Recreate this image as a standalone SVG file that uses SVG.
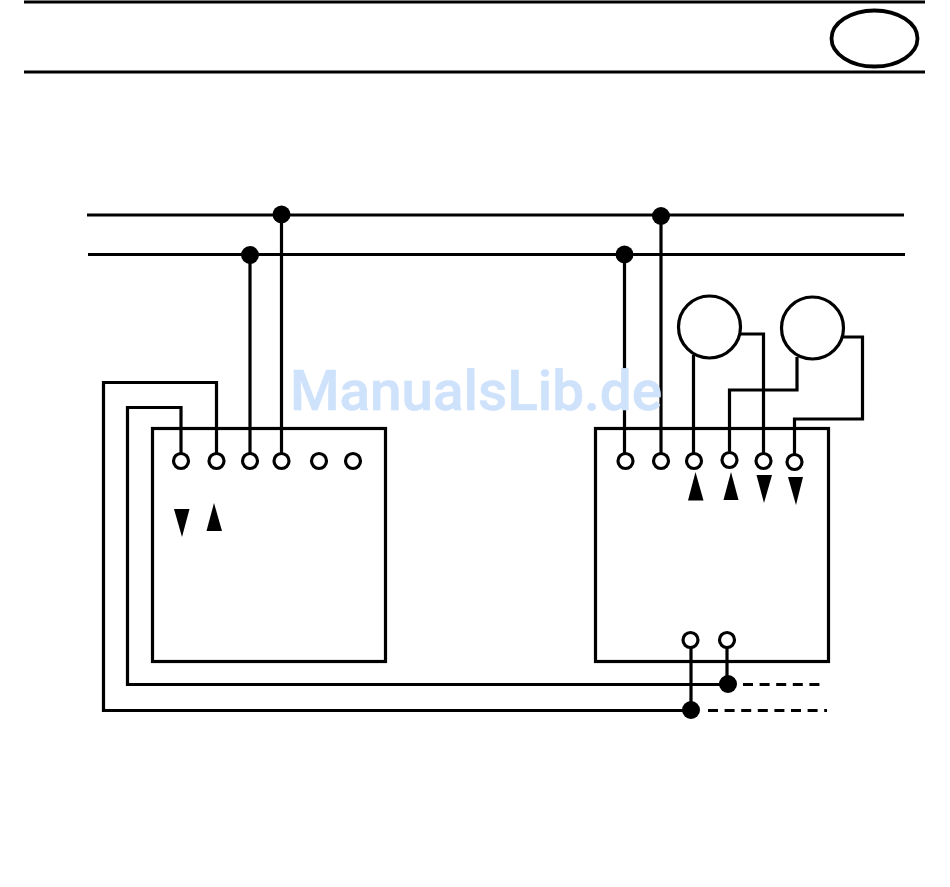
<svg xmlns="http://www.w3.org/2000/svg" width="950" height="887" viewBox="0 0 950 887">
<style>
.l{fill:none;stroke:#000;stroke-width:3.2}
.o{fill:#fff;stroke:#000;stroke-width:3.2}
.d{fill:#000}
.w{font-family:Roboto,"Liberation Sans",sans-serif;font-weight:500;font-size:56px;fill:#cfe2fb;stroke:#cfe2fb;stroke-width:.6}
</style>
<rect width="950" height="887" fill="#fff"/>
<g id="connectors">
<path class="l" d="M24 2H925M24 72H925"/>
<path class="l" d="M87 215H904M88 254.500H905"/>
<path class="l" d="M250 255V453M281.500 215V453M624.500 255V453M661 216V453"/>
<path class="l" d="M216.500 453V382.500H103.500V710.500H691"/>
<path class="l" d="M181 453V407.500H127.500V684.500H727"/>
<path class="l" d="M693.500 355V453M739 334H763.500V453M797 357V390H729.500V452M841 337H862.500V419H794.500V454"/>
<path class="l" d="M691 648V710M727 648V684"/>
<path class="l" stroke-dasharray="10 6.600" d="M743 684.500H820M708 710.500H827"/>
</g>
<g id="header-badge"><ellipse class="l" cx="874.500" cy="38.500" rx="43" ry="28" style="stroke-width:3.800"/></g>
<g id="bus-junctions">
<circle class="d" cx="281.500" cy="214.500" r="9"/>
<circle class="d" cx="661" cy="216" r="9"/>
<circle class="d" cx="250" cy="255" r="9"/>
<circle class="d" cx="624.500" cy="254.500" r="9"/>
</g>
<g id="unit-left">
<rect class="l" x="152.500" y="428.500" width="233" height="233"/>
<circle class="o" cx="181" cy="461" r="7.500"/>
<circle class="o" cx="216.500" cy="461" r="7.500"/>
<circle class="o" cx="250" cy="461" r="7.500"/>
<circle class="o" cx="281.500" cy="461" r="7.500"/>
<circle class="o" cx="319" cy="461" r="7.500"/>
<circle class="o" cx="353" cy="461" r="7.500"/>
<path class="d" d="M174 509H189.500L182 537Z"/>
<path class="d" d="M214 503L222 531H206.500Z"/>
</g>
<g id="unit-right">
<rect class="l" x="595.500" y="428.500" width="233" height="233"/>
<circle class="o" cx="625.500" cy="461" r="7.500"/>
<circle class="o" cx="661" cy="461" r="7.500"/>
<circle class="o" cx="694" cy="461" r="7.500"/>
<circle class="o" cx="729.500" cy="460" r="7.500"/>
<circle class="o" cx="763.500" cy="461" r="7.500"/>
<circle class="o" cx="794.500" cy="462" r="7.500"/>
<circle class="o" cx="690.500" cy="640" r="7.500"/>
<circle class="o" cx="727" cy="640" r="7.500"/>
<path class="d" d="M695.500 472L703.500 500.500H688Z"/>
<path class="d" d="M731 472L738.500 500H723.500Z"/>
<path class="d" d="M756.500 475H772L764 503Z"/>
<path class="d" d="M788 477H803L796 505Z"/>
</g>
<g id="motor-1"><circle class="l" cx="709.500" cy="327" r="31"/></g>
<g id="motor-2"><circle class="l" cx="812.500" cy="328" r="31"/></g>
<g id="lower-junctions">
<circle class="d" cx="728" cy="684" r="9"/>
<circle class="d" cx="691" cy="710" r="9"/>
</g>
<text class="w" x="290" y="410" textLength="372" lengthAdjust="spacingAndGlyphs">ManualsLib.de</text>
</svg>
